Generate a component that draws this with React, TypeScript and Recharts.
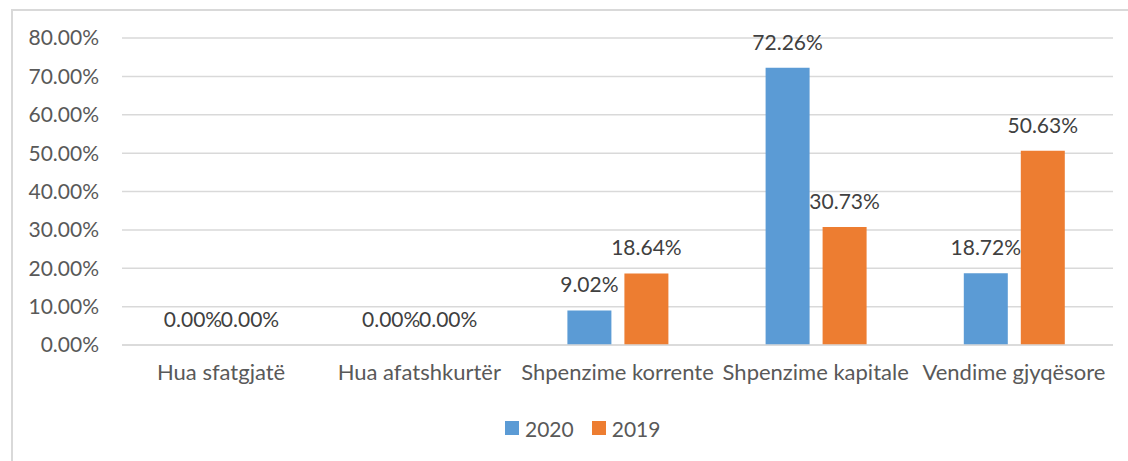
import {
  Bar,
  BarChart,
  CartesianGrid,
  LabelList,
  Legend,
  XAxis,
  YAxis,
} from "recharts";

const categories = [
  "Hua sfatgjatë",
  "Hua afatshkurtër",
  "Shpenzime korrente",
  "Shpenzime kapitale",
  "Vendime gjyqësore",
];
const values2020 = [0, 0, 9.02, 72.26, 18.72];
const values2019 = [0, 0, 18.64, 30.73, 50.63];
const yTicks = [0, 10, 20, 30, 40, 50, 60, 70, 80];

const FONT = "Lato, 'Open Sans', sans-serif";
const BLUE = "#5B9BD5";
const ORANGE = "#ED7D31";
const GRID = "#d9d9d9";

const pct = (v: number) => `${v.toFixed(2)}%`;

// zero bars get a hair-thin height so their labels still render
const tinyForZero = (v: any) => (Number(v) === 0 ? 0.01 : 0);

// value label above each bar
function ValueLabel(props: any) {
  const { x, y, width, value } = props;
  if (x == null || y == null) return null;
  return (
    <text
      x={Number(x) + Number(width) / 2}
      y={Number(y) - 18}
      textAnchor="middle"
      fill="#404040"
      fontSize={21}
      fontFamily={FONT}
    >
      {pct(Number(value))}
    </text>
  );
}

// Excel-style legend: small squares
function LegendContent() {
  const items = [
    { name: "2020", color: BLUE },
    { name: "2019", color: ORANGE },
  ];
  return (
    <div
      style={{
        display: "flex",
        alignItems: "center",
        paddingLeft: 505,
        fontFamily: FONT,
        fontSize: 21,
        color: "#595959",
        height: 24,
      }}
    >
      {items.map((it) => (
        <div key={it.name} style={{ display: "flex", alignItems: "center", marginRight: 18 }}>
          <span
            style={{
              display: "inline-block",
              width: 14,
              height: 14,
              background: it.color,
              marginRight: 6,
            }}
          />
          <span>{it.name}</span>
        </div>
      ))}
    </div>
  );
}

export default function App() {
  const data = categories.map((c, i) => ({
    name: c,
    y2020: values2020[i],
    y2019: values2019[i],
  }));

  return (
    <div style={{ position: "absolute", left: 0, top: 0, width: 1128, height: 461, background: "#fff" }}>
      <div
        style={{
          position: "absolute",
          left: 11,
          top: 9,
          width: 1128,
          height: 470,
          border: `2px solid ${GRID}`,
          boxSizing: "border-box",
        }}
      />
      <BarChart
        width={1128}
        height={461}
        data={data}
        margin={{ top: 38, right: 15, bottom: 0, left: 0 }}
        barSize={44}
        barGap={13}
        style={{ position: "absolute", left: 0, top: 0 }}
      >
        <CartesianGrid vertical={false} stroke={GRID} strokeWidth={1.5} />
        <XAxis
          dataKey="name"
          height={60}
          tickLine={false}
          tickSize={0}
          tickMargin={19}
          axisLine={{ stroke: GRID, strokeWidth: 1.5 }}
          tick={{ fill: "#595959", fontSize: 22, fontFamily: FONT }}
          interval={0}
        />
        <YAxis
          width={122}
          domain={[0, 80]}
          ticks={yTicks}
          tickFormatter={pct}
          axisLine={false}
          tickLine={false}
          tickSize={0}
          tickMargin={23}
          tick={{ fill: "#595959", fontSize: 21, fontFamily: FONT }}
        />
        <Legend
          verticalAlign="bottom"
          height={56}
          content={() => <LegendContent />}
          wrapperStyle={{ top: 416, left: 0, width: 1128 }}
        />
        <Bar dataKey="y2020" name="2020" fill={BLUE} minPointSize={tinyForZero} isAnimationActive={false}>
          <LabelList dataKey="y2020" content={ValueLabel} />
        </Bar>
        <Bar dataKey="y2019" name="2019" fill={ORANGE} minPointSize={tinyForZero} isAnimationActive={false}>
          <LabelList dataKey="y2019" content={ValueLabel} />
        </Bar>
      </BarChart>
    </div>
  );
}
